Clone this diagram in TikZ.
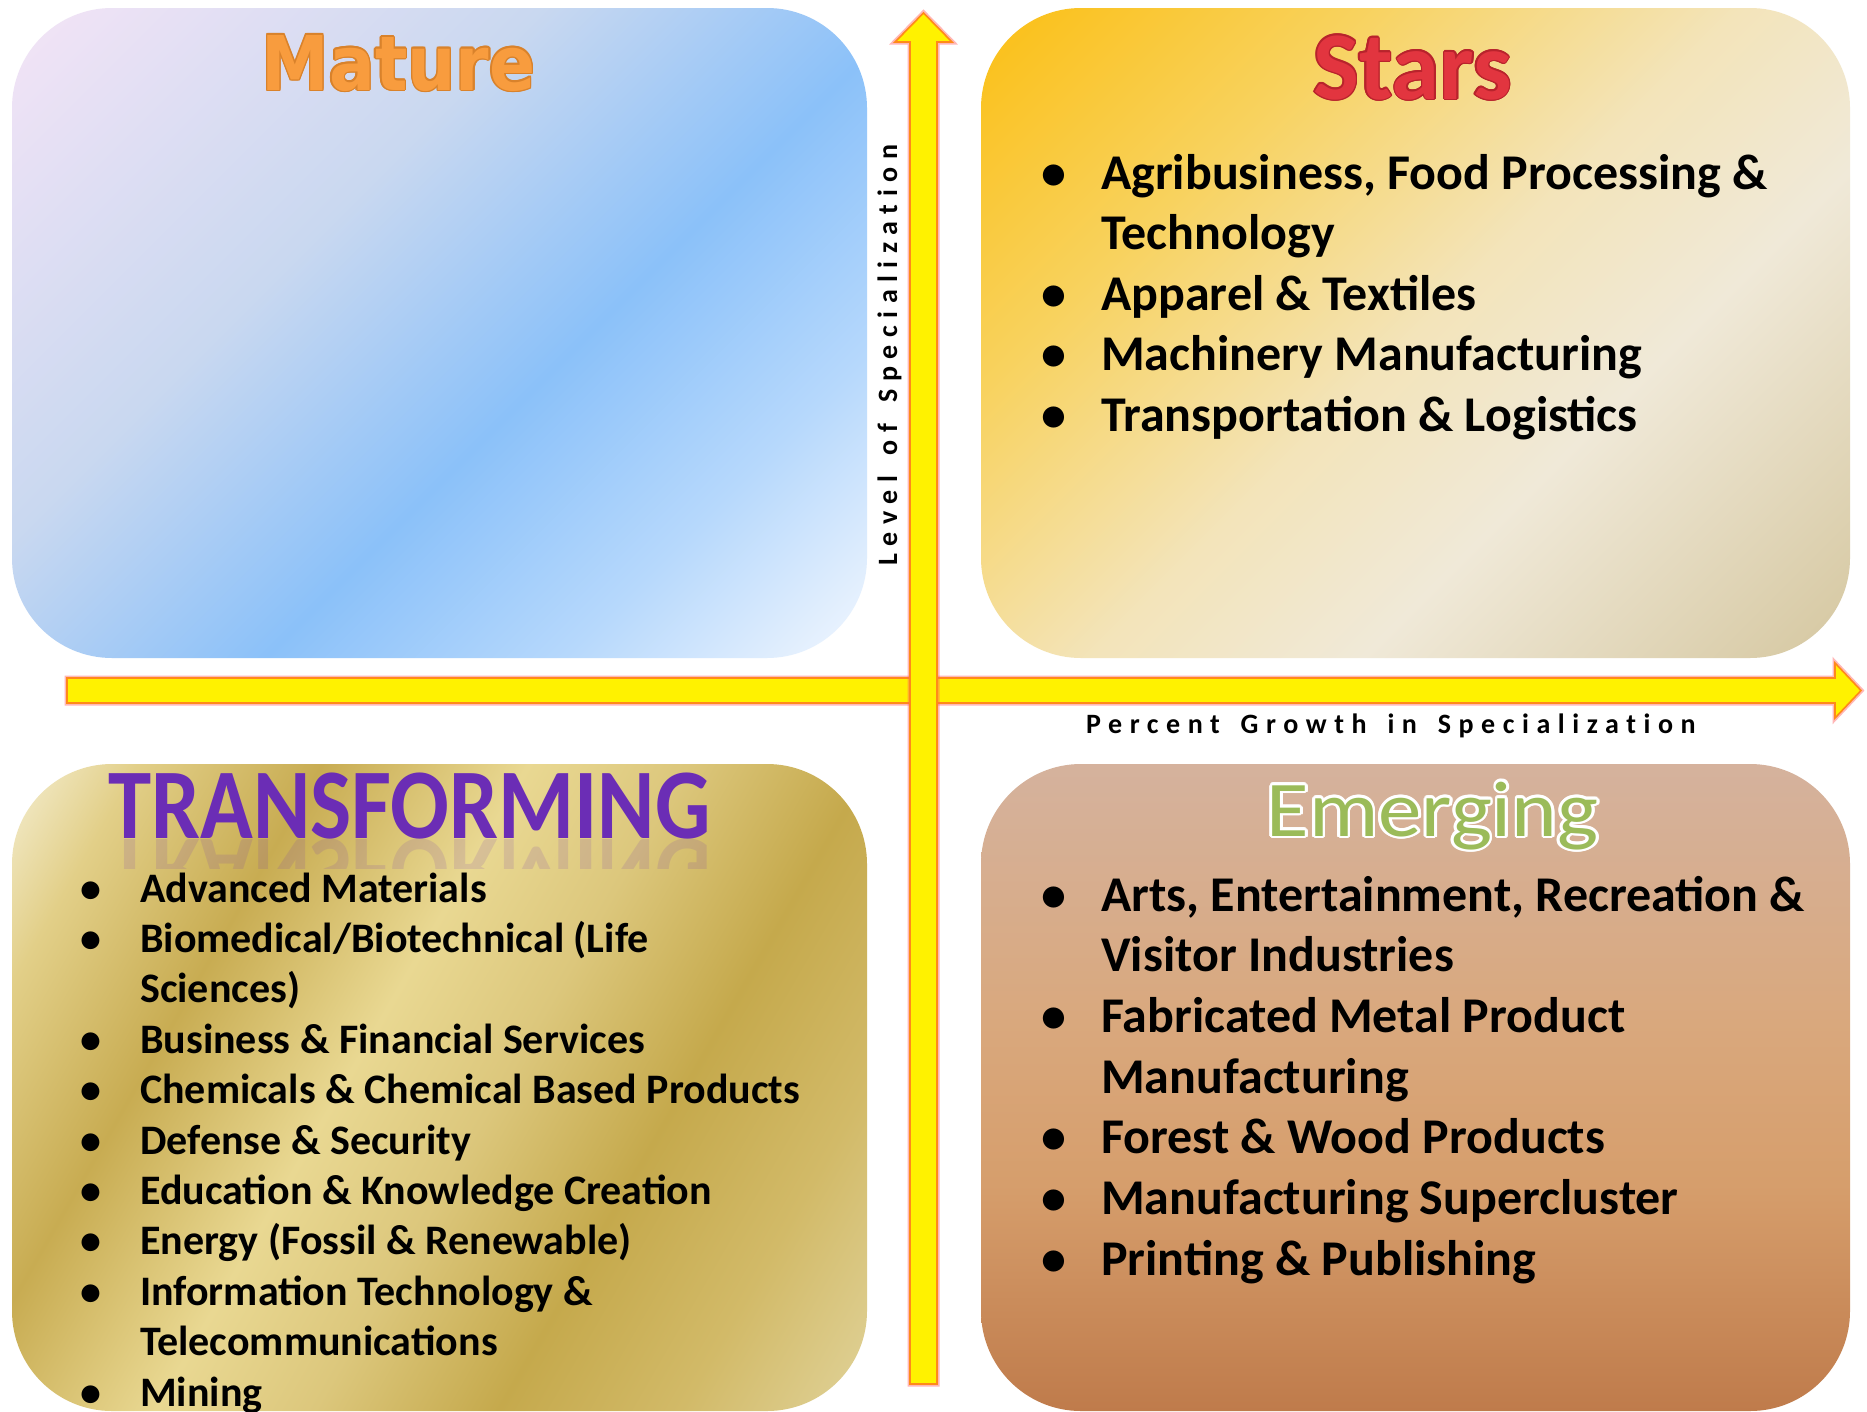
\documentclass[tikz,border=0pt]{standalone}
\usepackage{fontspec}
\usepackage{graphicx}
\setmainfont{Carlito}
\newfontfamily\axisfont[LetterSpace=27, WordSpace=1.5, Ligatures=NoCommon]{Carlito}
\newfontfamily\maturefont{DejaVu Sans}
\definecolor{mA}{HTML}{F4E4F6}
\definecolor{mB}{HTML}{C9D8F0}
\definecolor{mC}{HTML}{8BC1F9}
\definecolor{mD}{HTML}{B6D8FC}
\definecolor{mE}{HTML}{F2F7FE}
\definecolor{sA}{HTML}{FBBF14}
\definecolor{sB}{HTML}{F8D25E}
\definecolor{sC}{HTML}{F3E4BA}
\definecolor{sD}{HTML}{F0E9D8}
\definecolor{sE}{HTML}{D5C7A0}
\definecolor{tA}{HTML}{F4EDCF}
\definecolor{tB}{HTML}{E2CF88}
\definecolor{tC}{HTML}{C8AC52}
\definecolor{tD}{HTML}{E9D892}
\definecolor{tE}{HTML}{DCC77C}
\definecolor{tF}{HTML}{C5A94C}
\definecolor{tG}{HTML}{D2BA68}
\definecolor{tH}{HTML}{E0D298}
\definecolor{eA}{HTML}{D5B29D}
\definecolor{eB}{HTML}{D9A87D}
\definecolor{eC}{HTML}{D69E6C}
\definecolor{eD}{HTML}{BF7B4B}
\definecolor{matureor}{HTML}{F89C3E}
\definecolor{matureout}{HTML}{D9822B}
\definecolor{starsred}{HTML}{E2353F}
\definecolor{starsout}{HTML}{B8232C}
\definecolor{transpur}{HTML}{6B2DB5}
\definecolor{emgreen}{HTML}{9BBB59}
\definecolor{arrowline}{HTML}{FF8A1A}
\definecolor{arrowglow}{HTML}{FF6060}
\pgfdeclarehorizontalshading{maturesh}{100bp}{color(0bp)=(mA); color(14.6bp)=(mA); color(39.4bp)=(mB); color(57.1bp)=(mC); color(71.2bp)=(mD); color(85.4bp)=(mE); color(100bp)=(mE)}
\pgfdeclarehorizontalshading{starssh}{100bp}{color(0bp)=(sA); color(14.6bp)=(sA); color(32.3bp)=(sB); color(50bp)=(sC); color(62.7bp)=(sD); color(85.4bp)=(sE); color(100bp)=(sE)}
\pgfdeclarehorizontalshading{transsh}{100bp}{color(0bp)=(tA); color(15.9bp)=(tA); color(22.7bp)=(tB); color(33bp)=(tC); color(44.5bp)=(tD); color(53.4bp)=(tE); color(63.7bp)=(tF); color(73.9bp)=(tG); color(84.1bp)=(tH); color(100bp)=(tH)}
\pgfdeclareverticalshading{emergsh}{100bp}{color(0bp)=(eD); color(25bp)=(eD); color(42.5bp)=(eC); color(55bp)=(eB); color(75bp)=(eA); color(100bp)=(eA)}
\begin{document}
\begin{tikzpicture}[x=1pt,y=-1pt,
  item/.style={anchor=base west, inner sep=0pt, font=\bfseries\fontsize{50}{60}\selectfont},
  bul/.style={anchor=base, inner sep=0pt, font=\bfseries\fontsize{50}{60}\selectfont},
  titem/.style={anchor=base west, inner sep=0pt, font=\bfseries\fontsize{42}{50}\selectfont},
  tbul/.style={anchor=base, inner sep=0pt, font=\bfseries\fontsize{42}{50}\selectfont},
  mtitle/.style={anchor=base, inner sep=0pt, xscale=0.9, font=\maturefont\bfseries\fontsize{75.5}{80}\selectfont},
  stitle/.style={anchor=base, inner sep=0pt, font=\bfseries\fontsize{97}{100}\selectfont},
  ttitle/.style={anchor=base, inner sep=0pt, xscale=0.87, font=\bfseries\fontsize{100}{110}\selectfont},
  etitle/.style={anchor=base, inner sep=0pt, xscale=1.1, font=\fontsize{79}{90}\selectfont},
  axislabel/.style={anchor=base west, inner sep=0pt, font=\axisfont\bfseries\fontsize{28}{30}\selectfont},
  arrowglowst/.style={draw=arrowglow, line width=5pt, opacity=0.45, line join=miter},
  arrowst/.style={fill=yellow, draw=arrowline, line width=1.6pt, line join=miter}]
\useasboundingbox (0,0) rectangle (1867,1411);
\clip (0,0) rectangle (1867,1411);
\fill[white] (0,0) rectangle (1867,1411);
% quadrant boxes
\shade[shading=maturesh, shading angle=-45, rounded corners=100pt] (12,8) rectangle (867,658);
\shade[shading=starssh, shading angle=-45, rounded corners=100pt] (981,8) rectangle (1850,658);
\shade[shading=transsh, shading angle=-30, rounded corners=100pt] (12,764) rectangle (867,1411);
\shade[shading=emergsh, rounded corners=100pt] (981,764) rectangle (1850,1411);
% horizontal arrow
\path[arrowglowst] (67,678) -- (1835,678) -- (1835,663) -- (1861,690.5) -- (1835,718) -- (1835,703) -- (67,703) -- cycle;
\path[arrowst] (67,678) -- (1835,678) -- (1835,663) -- (1861,690.5) -- (1835,718) -- (1835,703) -- (67,703) -- cycle;
% vertical arrow
\path[arrowglowst] (910,1384) -- (910,42) -- (895,42) -- (923.5,13) -- (952,42) -- (937,42) -- (937,1384) -- cycle;
\path[arrowst] (910,1384) -- (910,42) -- (895,42) -- (923.5,13) -- (952,42) -- (937,42) -- (937,1384) -- cycle;
% axis labels
\node[axislabel, rotate=90] (ylabel) at (897,566) {Level of Specialization};
\node[axislabel] (xlabel) at (1086,733) {Percent Growth in Specialization};
% titles
\foreach \a [count=\i] in {0,30,...,330}
  \node[mtitle, text=matureout, shift={(\a:1.6)}] (matureo\i) at (398.5,90) {Mature};
\node[mtitle, text=matureor] (mature) at (398.5,90) {Mature};
\foreach \a [count=\i] in {0,30,...,330}
  \node[stitle, text=starsout, shift={(\a:1.5)}] (starso\i) at (1412.5,99) {Stars};
\node[stitle, text=starsred] (stars) at (1412.5,99) {Stars};
\begin{scope}
  \clip (90,839) rectangle (740,868);
  \node[ttitle, yscale=-1, text=transpur, text opacity=0.14] (transrefl) at (409.5,839) {TRANSFORMING};
\end{scope}
\node[ttitle, text=transpur] (trans) at (409.5,838) {TRANSFORMING};
\foreach \a [count=\i] in {0,22.5,...,337.5}
  \node[etitle, text=white, shift={(\a:2.6)}] (emergo\i) at (1432.5,836) {Emerging};
\node[etitle, text=emgreen] (emerg) at (1432.5,836) {Emerging};
% Stars list
\node[bul] (sb1) at (1054,189) {\textbullet};
\node[item] (s1) at (1101,189) {Agribusiness, Food Processing \&};
\node[item] (s2) at (1101,249.5) {Technology};
\node[bul] (sb3) at (1054,310) {\textbullet};
\node[item] (s3) at (1101,310) {Apparel \& Textiles};
\node[bul] (sb4) at (1054,370.5) {\textbullet};
\node[item] (s4) at (1101,370.5) {Machinery Manufacturing};
\node[bul] (sb5) at (1054,431) {\textbullet};
\node[item] (s5) at (1101,431) {Transportation \& Logistics};
% Emerging list
\node[bul] (eb1) at (1054,911) {\textbullet};
\node[item] (e1) at (1101,911) {Arts, Entertainment, Recreation \&};
\node[item] (e2) at (1101,971.7) {Visitor Industries};
\node[bul] (eb3) at (1054,1032.4) {\textbullet};
\node[item] (e3) at (1101,1032.4) {Fabricated Metal Product};
\node[item] (e4) at (1101,1093.1) {Manufacturing};
\node[bul] (eb5) at (1054,1153.8) {\textbullet};
\node[item] (e5) at (1101,1153.8) {Forest \& Wood Products};
\node[bul] (eb6) at (1054,1214.5) {\textbullet};
\node[item] (e6) at (1101,1214.5) {Manufacturing Supercluster};
\node[bul] (eb7) at (1054,1275.2) {\textbullet};
\node[item] (e7) at (1101,1275.2) {Printing \& Publishing};
% Transforming list
\node[tbul] (tb1) at (90.5,902) {\textbullet};
\node[titem] (t1) at (140,902) {Advanced Materials};
\node[tbul] (tb2) at (90.5,952.4) {\textbullet};
\node[titem] (t2) at (140,952.4) {Biomedical/Biotechnical (Life};
\node[titem] (t3) at (140,1002.8) {Sciences)};
\node[tbul] (tb4) at (90.5,1053.2) {\textbullet};
\node[titem] (t4) at (140,1053.2) {Business \& Financial Services};
\node[tbul] (tb5) at (90.5,1103.6) {\textbullet};
\node[titem] (t5) at (140,1103.6) {Chemicals \& Chemical Based Products};
\node[tbul] (tb6) at (90.5,1154) {\textbullet};
\node[titem] (t6) at (140,1154) {Defense \& Security};
\node[tbul] (tb7) at (90.5,1204.4) {\textbullet};
\node[titem] (t7) at (140,1204.4) {Education \& Knowledge Creation};
\node[tbul] (tb8) at (90.5,1254.8) {\textbullet};
\node[titem] (t8) at (140,1254.8) {Energy (Fossil \& Renewable)};
\node[tbul] (tb9) at (90.5,1305.2) {\textbullet};
\node[titem] (t9) at (140,1305.2) {Information Technology \&};
\node[titem] (t10) at (140,1355.6) {Telecommunications};
\node[tbul] (tb11) at (90.5,1406) {\textbullet};
\node[titem] (t11) at (140,1406) {Mining};
\end{tikzpicture}
\end{document}
